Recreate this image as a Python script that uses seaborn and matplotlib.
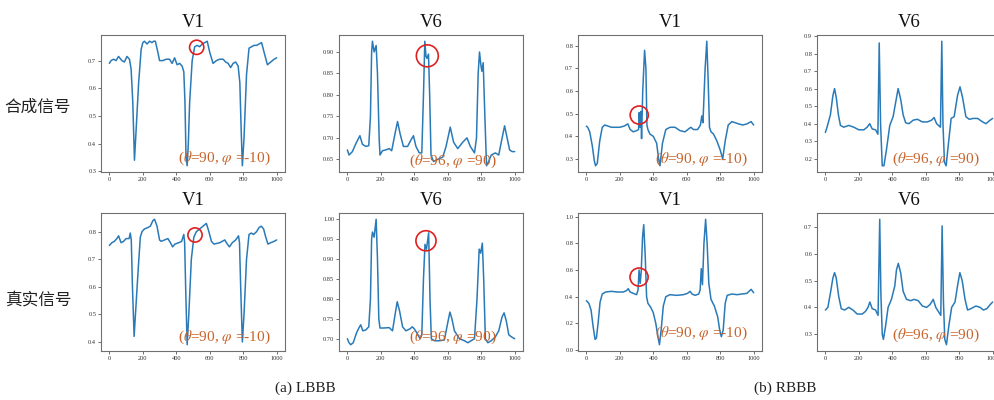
import matplotlib
matplotlib.use("Agg")
import matplotlib.pyplot as plt
import seaborn as sns

# ---------------- data ----------------
x_ticks = [0, 200, 400, 600, 800, 1000]

# (a) LBBB synthetic V1
p1_x = [0,10,25,40,55,75,90,105,120,130,140,150,160,175,190,200,210,225,240,255,265,275,290,300,320,340,360,375,390,405,420,435,445,452,458,465,472,480,495,510,525,540,555,570,585,600,620,640,660,680,695,710,725,740,755,770,780,788,795,805,820,835,850,865,880,895,910,925,945,965,985,1000]
p1_y = [0.69,0.70,0.705,0.70,0.715,0.70,0.695,0.715,0.705,0.67,0.55,0.34,0.45,0.62,0.74,0.765,0.77,0.76,0.77,0.765,0.77,0.77,0.73,0.70,0.70,0.705,0.705,0.69,0.71,0.685,0.69,0.68,0.66,0.55,0.36,0.32,0.40,0.55,0.70,0.75,0.755,0.75,0.76,0.765,0.77,0.73,0.69,0.70,0.705,0.705,0.695,0.69,0.675,0.69,0.695,0.68,0.62,0.45,0.32,0.42,0.65,0.745,0.75,0.755,0.755,0.76,0.765,0.73,0.685,0.695,0.705,0.71]
p1_yt = [0.3, 0.4, 0.5, 0.6, 0.7]

# (a) LBBB synthetic V6
p2_x = [0,10,30,55,75,90,110,128,138,145,150,160,172,180,190,195,210,230,250,265,285,300,315,335,360,380,395,410,430,445,455,463,470,476,485,492,500,515,540,570,590,615,635,660,690,715,735,760,772,782,790,798,804,812,822,832,845,860,885,905,920,940,955,970,985,1000]
p2_y = [0.672,0.66,0.668,0.69,0.705,0.685,0.68,0.682,0.75,0.90,0.925,0.90,0.915,0.85,0.70,0.66,0.67,0.672,0.675,0.67,0.71,0.738,0.71,0.68,0.68,0.695,0.705,0.68,0.665,0.665,0.80,0.925,0.89,0.885,0.895,0.80,0.66,0.645,0.65,0.655,0.68,0.725,0.69,0.675,0.69,0.70,0.68,0.665,0.70,0.85,0.90,0.87,0.855,0.875,0.75,0.635,0.645,0.66,0.665,0.66,0.69,0.728,0.70,0.672,0.668,0.668]
p2_yt = [0.65, 0.70, 0.75, 0.80, 0.85, 0.90]

# (b) RBBB synthetic V1
p3_x = [0,8,20,35,48,55,65,80,95,110,130,150,175,200,225,248,262,280,300,312,316,321,326,330,337,348,356,362,368,380,400,420,432,440,455,475,500,530,560,590,615,625,640,665,682,690,697,710,720,728,736,745,760,780,800,815,830,848,870,890,910,935,960,985,1000]
p3_y = [0.445,0.44,0.42,0.36,0.29,0.27,0.28,0.38,0.44,0.45,0.445,0.44,0.44,0.44,0.445,0.455,0.43,0.42,0.425,0.43,0.505,0.44,0.51,0.39,0.60,0.78,0.70,0.45,0.43,0.41,0.40,0.37,0.30,0.27,0.37,0.43,0.44,0.44,0.425,0.42,0.435,0.44,0.43,0.43,0.45,0.49,0.46,0.70,0.82,0.65,0.44,0.42,0.41,0.38,0.34,0.30,0.38,0.45,0.465,0.46,0.455,0.45,0.455,0.465,0.45]
p3_yt = [0.3, 0.4, 0.5, 0.6, 0.7, 0.8]

# (b) RBBB synthetic V6
p4_x = [0,10,30,45,55,65,78,90,110,140,170,200,230,250,265,280,300,314,322,330,340,350,365,385,405,420,435,450,465,480,500,525,550,580,610,635,650,665,688,696,703,712,722,735,752,770,790,805,820,840,860,885,910,940,960,985,1000]
p4_y = [0.35,0.38,0.45,0.56,0.60,0.55,0.45,0.39,0.38,0.39,0.38,0.365,0.365,0.38,0.40,0.37,0.365,0.34,0.86,0.40,0.16,0.16,0.25,0.39,0.44,0.52,0.60,0.54,0.45,0.405,0.40,0.42,0.425,0.41,0.41,0.42,0.435,0.40,0.38,0.87,0.40,0.18,0.16,0.28,0.43,0.44,0.56,0.61,0.55,0.44,0.425,0.43,0.43,0.41,0.40,0.42,0.43]
p4_yt = [0.2, 0.3, 0.4, 0.5, 0.6, 0.7, 0.8, 0.9]

# (a) LBBB real V1
p5_x = [0,15,30,45,55,70,85,100,118,125,131,138,148,158,172,185,195,210,230,245,260,270,285,300,310,330,350,365,378,392,415,432,445,450,456,465,475,490,505,520,540,560,580,595,610,625,660,690,705,718,735,755,772,778,785,795,805,820,835,848,862,880,895,908,922,935,948,965,985,1000]
p5_y = [0.75,0.76,0.765,0.775,0.785,0.76,0.765,0.775,0.775,0.795,0.77,0.60,0.42,0.52,0.66,0.78,0.80,0.81,0.815,0.82,0.84,0.845,0.82,0.77,0.765,0.77,0.775,0.76,0.745,0.755,0.76,0.765,0.79,0.76,0.60,0.39,0.50,0.70,0.78,0.80,0.81,0.82,0.83,0.80,0.765,0.755,0.76,0.77,0.755,0.745,0.76,0.77,0.785,0.76,0.60,0.40,0.50,0.70,0.79,0.795,0.79,0.80,0.815,0.82,0.81,0.78,0.755,0.76,0.765,0.77]
p5_yt = [0.4, 0.5, 0.6, 0.7, 0.8]

# (a) LBBB real V6
p6_x = [0,10,20,35,55,70,80,92,110,128,138,145,150,160,172,180,188,195,220,250,270,285,298,312,330,350,375,388,400,415,435,445,455,464,473,486,494,502,520,550,580,600,613,625,640,670,700,720,740,760,775,788,797,807,815,825,840,860,885,905,925,937,950,965,980,1000]
p6_y = [0.70,0.69,0.685,0.69,0.715,0.728,0.735,0.72,0.722,0.73,0.80,0.95,0.968,0.955,1.0,0.90,0.75,0.727,0.727,0.728,0.72,0.76,0.793,0.77,0.73,0.72,0.725,0.73,0.725,0.715,0.70,0.71,0.85,0.937,0.925,0.966,0.80,0.70,0.695,0.695,0.697,0.74,0.767,0.75,0.72,0.70,0.695,0.69,0.695,0.70,0.80,0.925,0.915,0.94,0.85,0.70,0.69,0.695,0.705,0.72,0.755,0.765,0.745,0.71,0.705,0.70]
p6_yt = [0.70, 0.75, 0.80, 0.85, 0.90, 0.95, 1.00]

# (b) RBBB real V1
p7_x = [0,15,28,40,52,60,70,82,95,115,150,185,220,240,250,262,280,300,309,315,322,328,336,343,352,360,368,385,400,415,428,437,447,460,475,500,540,580,605,620,632,650,672,680,687,694,703,713,722,732,745,765,785,797,807,818,830,842,870,900,930,960,985,1000]
p7_y = [0.37,0.35,0.30,0.18,0.08,0.09,0.20,0.36,0.42,0.435,0.44,0.435,0.435,0.445,0.46,0.435,0.425,0.415,0.45,0.60,0.50,0.59,0.85,0.94,0.70,0.40,0.35,0.32,0.28,0.20,0.10,0.04,0.15,0.33,0.40,0.415,0.41,0.415,0.425,0.44,0.42,0.41,0.42,0.45,0.61,0.49,0.80,0.98,0.80,0.50,0.38,0.33,0.25,0.15,0.10,0.15,0.35,0.41,0.42,0.415,0.42,0.425,0.455,0.43]
p7_yt = [0.0, 0.2, 0.4, 0.6, 0.8, 1.0]

# (b) RBBB real V6
p8_x = [0,15,32,45,55,65,80,95,115,140,165,190,220,240,255,266,280,300,315,325,332,340,347,360,375,395,415,425,436,450,465,485,510,530,555,580,605,625,645,660,680,690,698,706,714,724,738,755,775,790,804,818,835,850,870,900,925,945,965,985,1000]
p8_y = [0.39,0.40,0.46,0.51,0.53,0.51,0.44,0.395,0.39,0.40,0.39,0.375,0.375,0.385,0.40,0.42,0.395,0.39,0.37,0.73,0.45,0.30,0.28,0.33,0.40,0.43,0.48,0.54,0.565,0.53,0.46,0.43,0.425,0.43,0.425,0.405,0.40,0.41,0.43,0.40,0.38,0.37,0.705,0.42,0.28,0.26,0.33,0.40,0.42,0.48,0.53,0.50,0.43,0.39,0.395,0.405,0.40,0.39,0.395,0.41,0.42]
p8_yt = [0.3, 0.4, 0.5, 0.6, 0.7]

titles = ["V1", "V6", "V1", "V6", "V1", "V6", "V1", "V6"]
notes = ["(θ=90, φ =-10)", "(θ=96, φ =90)", "(θ=90, φ =-10)", "(θ=96, φ =90)",
         "(θ=90, φ =-10)", "(θ=96, φ =90)", "(θ=90, φ =-10)", "(θ=96, φ =90)"]
row_labels = ["合成信号", "真实信号"]
captions = ["(a) LBBB", "(b) RBBB"]

# highlighted regions (centre x, centre y) and marker size, None = no circle
circles = [(522, 0.748, 105), (478, 0.891, 250), (316, 0.494, 170), None,
           (512, 0.788, 105), (470, 0.946, 210), (315, 0.547, 170), None]

series = [(p1_x, p1_y, p1_yt), (p2_x, p2_y, p2_yt), (p3_x, p3_y, p3_yt), (p4_x, p4_y, p4_yt),
          (p5_x, p5_y, p5_yt), (p6_x, p6_y, p6_yt), (p7_x, p7_y, p7_yt), (p8_x, p8_y, p8_yt)]

# ---------------- style ----------------
sns.set_theme(style="white")
plt.rcParams['font.family'] = ['Liberation Serif', 'DejaVu Serif']
plt.rcParams['mathtext.fontset'] = 'stix'

W, H = 995, 400
fig = plt.figure(figsize=(W / 100, H / 100), dpi=100)
fig.patch.set_facecolor("white")

lefts = [101, 339, 578, 817]
width_px = 184
rows = [(35, 172), (213, 351)]

note_pos = [(0.42, 0.10), (0.38, 0.08), (0.42, 0.09), (0.41, 0.09),
            (0.42, 0.10), (0.38, 0.10), (0.42, 0.125), (0.41, 0.11)]

for i, (xs, ys, yt) in enumerate(series):
    r, c = divmod(i, 4)
    top, bot = rows[r]
    ax = fig.add_axes([lefts[c] / W, (H - bot) / H, width_px / W, (bot - top) / H])
    sns.lineplot(x=xs, y=ys, ax=ax, color="#2a7ab8", linewidth=1.1,
                 estimator=None, sort=False)
    ax.set_xticks(x_ticks)
    ax.set_yticks(yt)
    ax.set_yticklabels([f"{v:.2f}" if i in (1, 5) else f"{v:.1f}" for v in yt])
    ax.tick_params(axis="both", labelsize=4.6, colors="#333333", length=2, width=0.5,
                   pad=1.5, direction="out", left=True, bottom=True)
    for sp in ax.spines.values():
        sp.set_visible(True)
        sp.set_color("#707070")
        sp.set_linewidth(0.8)
    ax.set_facecolor("white")
    ax.grid(False)
    ax.set_xlabel("")
    ax.set_ylabel("")
    ax.set_title(titles[i], fontsize=13.5, pad=6, color="#111111")
    circ = circles[i]
    if circ is not None:
        ax.scatter([circ[0]], [circ[1]], s=circ[2], facecolors="none",
                   edgecolors="#e02020", linewidths=1.2, zorder=5)
    nx, ny = note_pos[i]
    ax.text(nx, ny, notes[i].replace("θ", r"$\theta$").replace("φ", r"$\varphi$"),
            transform=ax.transAxes, fontsize=11, color="#c8632b",
            ha="left", va="center", zorder=6)

# row labels
fig.text(38 / W, 1 - 107 / H, row_labels[0], fontsize=12,
         family=['Noto Sans CJK SC', 'DejaVu Sans'], ha="center", va="center", color="#222222")
fig.text(38 / W, 1 - 300 / H, row_labels[1], fontsize=12,
         family=['Noto Sans CJK SC', 'DejaVu Sans'], ha="center", va="center", color="#222222")

# captions
fig.text(305 / W, 1 - 388 / H, captions[0], fontsize=11, ha="center", va="center", color="#222222")
fig.text(785 / W, 1 - 388 / H, captions[1], fontsize=11, ha="center", va="center", color="#222222")

fig.savefig("out.png", dpi=100, facecolor="white")
